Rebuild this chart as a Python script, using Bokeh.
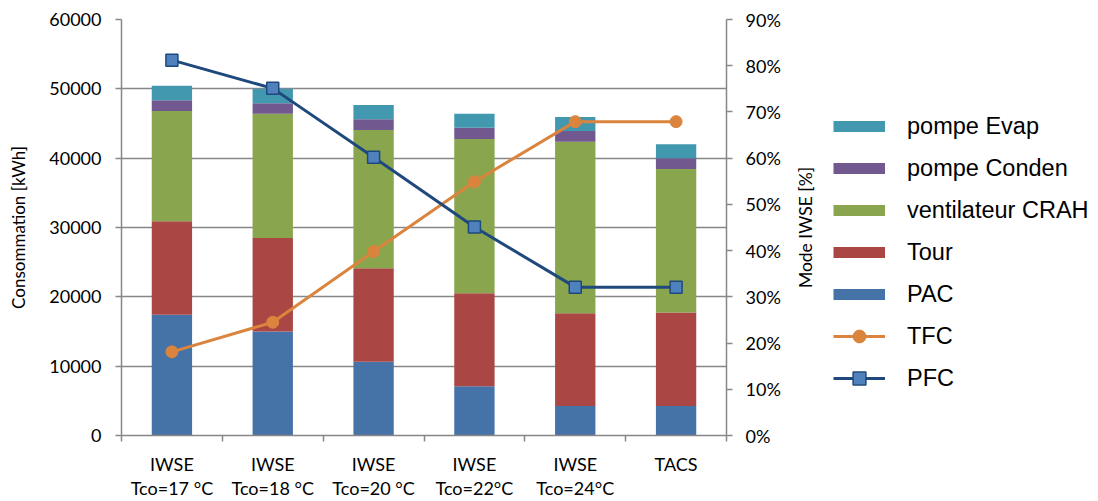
import math
from bokeh.plotting import figure
from bokeh.layouts import row
from bokeh.models import (Range1d, LinearAxis, FixedTicker, Legend, LegendItem, Title,
                          ColumnDataSource, PrintfTickFormatter, NumeralTickFormatter)
from bokeh.embed import file_html
from bokeh.resources import INLINE

# ---------------- data ----------------
categories = ["IWSE\nTco=17 °C", "IWSE\nTco=18 °C", "IWSE\nTco=20 °C",
              "IWSE\nTco=22°C", "IWSE\nTco=24°C", "TACS"]
PAC = [17400, 15000, 10650, 7100, 4270, 4270]
Tour = [13500, 13500, 13480, 13400, 13380, 13470]
CRAH = [15900, 17900, 19940, 22250, 24700, 20680]
Conden = [1550, 1530, 1540, 1630, 1580, 1580]
Evap = [2100, 2100, 2060, 2020, 2010, 2010]
TFC = [18.1, 24.5, 39.8, 54.9, 67.9, 67.9]   # %
PFC = [81.2, 75.1, 60.2, 45.1, 32.1, 32.1]   # %

left_ticks = [0, 10000, 20000, 30000, 40000, 50000, 60000]
right_ticks = [0, 10, 20, 30, 40, 50, 60, 70, 80, 90]

stack_names = ["PAC", "Tour", "ventilateur CRAH", "pompe Conden", "pompe Evap"]
stack_colors = ["#4572A7", "#AA4643", "#89A54E", "#71588F", "#4198AF"]
TFC_COLOR = "#DB843D"
PFC_LINE = "#1F497D"
PFC_FILL = "#4F81BD"
GRID = "#878787"

x = [i + 0.5 for i in range(len(categories))]
source = ColumnDataSource(dict(x=x, **{"PAC": PAC, "Tour": Tour, "ventilateur CRAH": CRAH,
                                       "pompe Conden": Conden, "pompe Evap": Evap}))

p = figure(width=790, height=501, x_range=Range1d(0, len(categories)),
           y_range=Range1d(0, 60000), output_backend="svg", toolbar_location=None,
           min_border_left=121, min_border_right=64, min_border_top=19,
           min_border_bottom=65)
p.extra_y_ranges = {"pct": Range1d(0, 90)}
p.outline_line_color = None

# grid
p.xgrid.visible = False
p.ygrid.ticker = FixedTicker(ticks=left_ticks)
p.ygrid.grid_line_color = GRID
p.ygrid.grid_line_width = 1.5

# left axis
ya = p.yaxis[0]
ya.ticker = FixedTicker(ticks=left_ticks)
ya.formatter = NumeralTickFormatter(format="0")
ya.axis_label = "Consommation [kWh]"
ya.axis_label_text_font = "Lato"
ya.axis_label_text_font_size = "17px"
ya.axis_label_text_font_style = "normal"
ya.axis_label_text_color = "black"
ya.axis_label_standoff = 17
ya.major_label_text_font = "Lato"
ya.major_label_text_font_size = "18px"
ya.major_label_text_color = "black"
ya.major_label_standoff = 14
ya.major_tick_out = 6
ya.major_tick_in = 0
ya.minor_tick_line_color = None
ya.major_tick_line_color = GRID
ya.major_tick_line_width = 1.5
ya.axis_line_color = GRID
ya.axis_line_width = 1.5

# x axis
xa = p.xaxis[0]
xa.ticker = FixedTicker(ticks=x, minor_ticks=list(range(len(categories) + 1)))
xa.major_label_overrides = {xi: c for xi, c in zip(x, categories)}
xa.major_label_text_font = "Lato"
xa.major_label_text_font_size = "18px"
xa.major_label_text_color = "black"
xa.major_label_text_line_height = 1.1
xa.major_tick_line_color = None
xa.major_tick_out = 0
xa.major_tick_in = 0
xa.major_label_standoff = 11
xa.minor_tick_out = 6
xa.minor_tick_in = 0
xa.minor_tick_line_color = GRID
xa.minor_tick_line_width = 1.5
xa.axis_line_color = GRID
xa.axis_line_width = 1.5

# right axis (its title is placed in the neighbouring panel so it reads bottom-to-top)
ra = LinearAxis(y_range_name="pct", ticker=FixedTicker(ticks=right_ticks),
                formatter=PrintfTickFormatter(format="%d%%"))
ra.major_label_text_font = "Lato"
ra.major_label_text_font_size = "18px"
ra.major_label_text_color = "black"
ra.major_label_standoff = 13
ra.major_tick_out = 6
ra.major_tick_in = 0
ra.minor_tick_line_color = None
ra.major_tick_line_color = GRID
ra.major_tick_line_width = 1.5
ra.axis_line_color = GRID
ra.axis_line_width = 1.5
p.add_layout(ra, "right")

# bars
bars = p.vbar_stack(stack_names, x="x", width=0.4, color=stack_colors, source=source,
                    line_color=None)

# lines
tfc_l = p.line(x, TFC, y_range_name="pct", line_color=TFC_COLOR, line_width=3)
tfc_m = p.scatter(x, TFC, y_range_name="pct", marker="circle", size=12,
                  fill_color=TFC_COLOR, line_color=TFC_COLOR)
pfc_l = p.line(x, PFC, y_range_name="pct", line_color=PFC_LINE, line_width=3)
pfc_m = p.scatter(x, PFC, y_range_name="pct", marker="square", size=12,
                  fill_color=PFC_FILL, line_color=PFC_LINE, line_width=1.5)

# ---------------- legend panel (with right-axis title) ----------------
lg = figure(width=300, height=501, x_axis_type=None, y_axis_type=None,
            output_backend="svg", toolbar_location=None,
            min_border_left=25, min_border_right=0, min_border_top=19, min_border_bottom=65,
            x_range=Range1d(0, 1), y_range=Range1d(0, 1))
lg.outline_line_color = None
lg.grid.visible = False
lg.title = None
lg.add_layout(Title(text="Mode IWSE [%]", align="center", text_font="Lato",
                    text_font_size="17.5px", text_font_style="normal",
                    text_color="black", standoff=0, offset=0), "left")

# legend proxies: points placed outside the visible range of the legend panel
off = [-10, -11]
proxies = {}
for name, col in zip(stack_names, stack_colors):
    proxies[name] = lg.line(off, off, line_color=col, line_width=11, line_cap="butt")
lt = lg.line(off, off, line_color=TFC_COLOR, line_width=3)
ls = lg.scatter(off, off, marker="circle", fill_color=TFC_COLOR, line_color=TFC_COLOR)
lp = lg.line(off, off, line_color=PFC_LINE, line_width=3)
lq = lg.scatter(off, off, marker="square", fill_color=PFC_FILL, line_color=PFC_LINE,
                line_width=1.5)

items = [LegendItem(label=n, renderers=[proxies[n]]) for n in reversed(stack_names)]
items.append(LegendItem(label="TFC", renderers=[lt, ls]))
items.append(LegendItem(label="PFC", renderers=[lp, lq]))

legend = Legend(items=items, location=(18, 41), glyph_width=52, glyph_height=32,
                spacing=10, padding=0, margin=0, label_standoff=22,
                label_text_font="Liberation Sans", label_text_font_size="23.5px",
                label_text_color="black",
                border_line_color=None, background_fill_alpha=0)
lg.add_layout(legend, "center")

layout = row(p, lg, spacing=0)
open("out.html", "w").write(file_html(layout, INLINE))
